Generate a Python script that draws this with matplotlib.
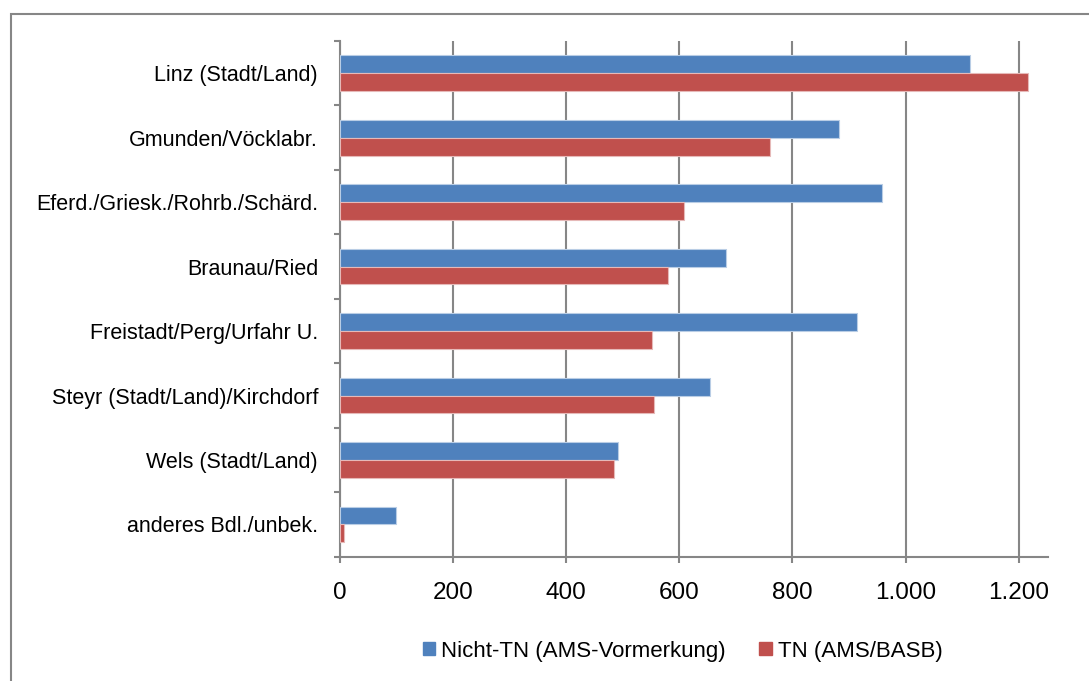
import matplotlib.pyplot as plt
from matplotlib.patches import Patch, Rectangle
import numpy as np

# Daten (von oben nach unten)
regionen = ["Linz (Stadt/Land)", "Gmunden/Vöcklabr.", "Eferd./Griesk./Rohrb./Schärd.",
            "Braunau/Ried", "Freistadt/Perg/Urfahr U.", "Steyr (Stadt/Land)/Kirchdorf",
            "Wels (Stadt/Land)", "anderes Bdl./unbek."]
nicht_tn = [1113, 883, 958, 683, 915, 654, 492, 100]
tn = [1216, 760, 609, 580, 552, 555, 485, 7]
x_ticks = [0, 200, 400, 600, 800, 1000, 1200]
x_labels = ["0", "200", "400", "600", "800", "1.000", "1.200"]

blau = "#4F81BD"
rot = "#C0504D"
grau = "#868686"

plt.rcParams['font.family'] = ['Liberation Sans', 'DejaVu Sans']

fig = plt.figure(figsize=(10.89, 6.81), dpi=100)
ax = fig.add_axes([0.3118, 0.1825, 0.6502, 0.7573])

n = len(regionen)
y = np.arange(n)
h = 0.277
ax.barh(y - h / 2, nicht_tn, height=h, color=blau, edgecolor="#B9CDE5", linewidth=0.8, zorder=3,
        label="Nicht-TN (AMS-Vormerkung)")
ax.barh(y + h / 2, tn, height=h, color=rot, edgecolor="#E6B9B8", linewidth=0.8, zorder=3,
        label="TN (AMS/BASB)")

ax.set_ylim(n - 0.5, -0.5)
ax.set_xlim(0, 1251)

ax.set_xticks(x_ticks)
ax.set_xticklabels(x_labels, fontsize=17.5)
ax.set_yticks(y)
ax.set_yticklabels(regionen, fontsize=15.5)
ax.set_yticks(np.arange(n + 1) - 0.5, minor=True)

ax.tick_params(axis='y', which='major', length=0, pad=15.5)
ax.tick_params(axis='y', which='minor', length=4.5, width=1.5, color=grau, direction='out')
ax.tick_params(axis='x', length=4.5, width=1.5, color=grau, pad=14)

ax.grid(True, axis='x', color=grau, linewidth=1.5, zorder=0)
for s in ['top', 'right']:
    ax.spines[s].set_visible(False)
for s in ['left', 'bottom']:
    ax.spines[s].set_color(grau)
    ax.spines[s].set_linewidth(1.5)

# Rahmen um das Diagramm
fig.patches.append(Rectangle((10.5 / 1089, -0.1), 1.2, 1 - 13.5 / 681 + 0.1, transform=fig.transFigure,
                             fill=False, edgecolor=grau, linewidth=1.5))

handles = [Patch(color=blau), Patch(color=rot)]
fig.legend(handles, ["Nicht-TN (AMS-Vormerkung)", "TN (AMS/BASB)"], loc='center',
           bbox_to_anchor=(0.627, 1 - 651 / 681), ncol=2, frameon=False, fontsize=16,
           handlelength=0.55, handleheight=0.55, handletextpad=0.3, columnspacing=1.5)

fig.savefig("out.png", dpi=100)
